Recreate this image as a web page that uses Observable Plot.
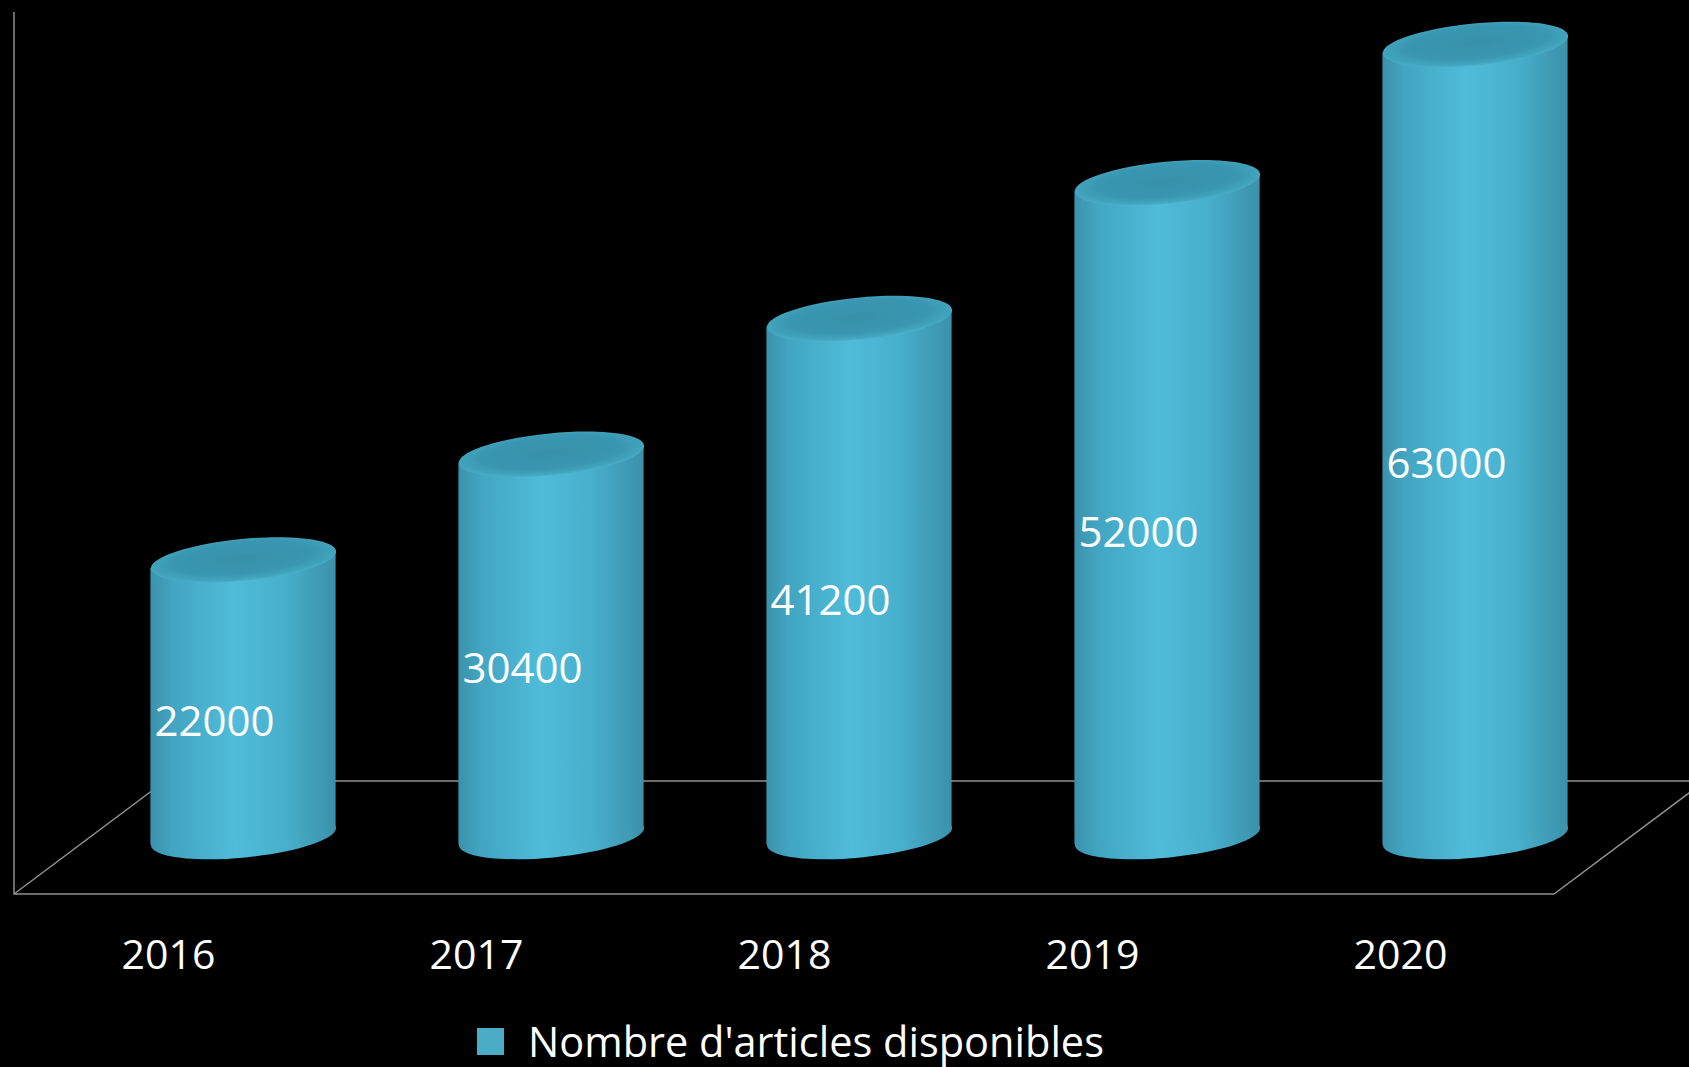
<!DOCTYPE html>
<html>
<head>
<meta charset="utf-8">
<script src="https://cdn.jsdelivr.net/npm/d3@7"></script>
<script src="https://cdn.jsdelivr.net/npm/@observablehq/plot@0.6"></script>
<style>
  html, body { margin: 0; padding: 0; background: #000; }
  body { width: 1689px; height: 1067px; overflow: hidden; font-family: "Open Sans", sans-serif; }
  #legend { position: relative; height: 52px; display: flex; align-items: center; padding-left: 477px; color: #fff; font-size: 41.5px; line-height: 52px; }
  #legend .sw { width: 27px; height: 27px; background: #4bacc6; margin-right: 24px; flex: none; }
</style>
</head>
<body>
<div id="chart"></div>
<div id="legend"><span class="sw"></span><span id="legend-text"></span></div>
<script>
// ---- data ----
const years = ["2016", "2017", "2018", "2019", "2020"];
const values = [22000, 30400, 41200, 52000, 63000];
const seriesName = "Nombre d'articles disponibles";

const data = years.map((year, i) => ({year, value: values[i]}));

// cylinder geometry (style)
const capA = 93, capRatio = 0.226, tilt = -5.5;          // ellipse half-width, b/a, rotation (deg)
const th = tilt * Math.PI / 180;
const capB = capA * capRatio;
const halfX = Math.sqrt(capA * capA * Math.cos(th) ** 2 + capB * capB * Math.sin(th) ** 2);
const yOff = (capA * capA - capB * capB) * Math.sin(-th) * Math.cos(th) / halfX;
const skew = -Math.atan(yOff / halfX) * 180 / Math.PI;

// ellipse symbol (for cylinder caps)
const ellipse = (ratio) => ({
  draw(context, size) {
    const a = Math.sqrt(size / Math.PI), b = a * ratio, k = 0.5522847;
    context.moveTo(-a, 0);
    context.bezierCurveTo(-a, -b * k, -a * k, -b, 0, -b);
    context.bezierCurveTo(a * k, -b, a, -b * k, a, 0);
    context.bezierCurveTo(a, b * k, a * k, b, 0, b);
    context.bezierCurveTo(-a * k, b, -a, b * k, -a, 0);
    context.closePath();
  }
});

function skewRects(g) {
  d3.select(g).selectAll("rect").each(function () {
    const x = +this.getAttribute("x"), w = +this.getAttribute("width");
    const y = +this.getAttribute("y"), h = +this.getAttribute("height");
    const cx = x + w / 2, cy = y + h / 2;
    this.setAttribute("transform", `translate(${cx},${cy}) skewY(${skew}) translate(${-cx},${-cy})`);
  });
  return g;
}

// 3D frame (walls / floor) + gradient definitions
function frame(index, scales, channels, dims) {
  const g = d3.create("svg:g");
  const defs = g.append("defs");
  const body = defs.append("linearGradient").attr("id", "cylBody").attr("x1", 0).attr("y1", 0).attr("x2", 1).attr("y2", 0);
  [[0, "#3b92ac"], [0.12, "#42a5c1"], [0.45, "#4fbcda"], [0.72, "#48afcc"], [1, "#3b91aa"]]
    .forEach(([o, c]) => body.append("stop").attr("offset", o).attr("stop-color", c));
  const top = defs.append("radialGradient").attr("id", "cylTop").attr("cx", 0.5).attr("cy", 0.45).attr("r", 0.55);
  [[0, "#3790a9"], [0.7, "#3a97b1"], [0.92, "#43a5bf"], [1, "#4db1cb"]]
    .forEach(([o, c]) => top.append("stop").attr("offset", o).attr("stop-color", c));

  const y0 = scales.y(0);
  const front = y0 + 58, back = y0 - 55;
  const left = 14, right = 1554, depth = 151, topY = 12;
  const path = `M${left},${topY}V${front}H${right}L${right + depth},${back}` +
               `M${left},${front}L${left + depth},${back}H${dims.width + 20}`;
  g.append("path").attr("d", path).attr("fill", "none").attr("stroke", "#8f8f8f").attr("stroke-width", 1.5);
  return g.node();
}

const inset = (308 - 2 * halfX) / 2;

const chart = Plot.plot({
  width: 1689,
  height: 1015,
  marginLeft: 89,
  marginRight: 60,
  marginTop: 44,
  marginBottom: 179,
  style: {background: "#000", color: "#fff", fontFamily: "Open Sans, sans-serif", overflow: "visible"},
  x: {domain: years, padding: 0, label: null},
  y: {domain: [0, 63000], axis: null, label: null},
  marks: [
    frame,
    // bottom caps
    Plot.dot(data, {x: "year", y: () => 0, r: capA, symbol: ellipse(capRatio), rotate: tilt, fill: "url(#cylBody)", stroke: "none"}),
    // cylinder bodies
    Plot.barY(data, {x: "year", y: "value", fill: "url(#cylBody)", insetLeft: inset, insetRight: inset,
      render: (i, s, v, d, c, next) => skewRects(next(i, s, v, d, c))}),
    // top caps
    Plot.dot(data, {x: "year", y: "value", r: capA, symbol: ellipse(capRatio), rotate: tilt, fill: "url(#cylTop)", stroke: "none"}),
    // value labels
    Plot.text(data, {x: "year", y: d => d.value / 2, text: d => String(d.value), dx: -29, dy: 24,
      fill: "#fff", fontSize: 42, fontFamily: "Open Sans, sans-serif"}),
    // year axis
    Plot.axisX({tickSize: 0, tickPadding: 103, dx: -75, fontSize: 41, fill: "#fff", label: null})
  ]
});

// fallback if the render option is not available in this Plot build
d3.select(chart).selectAll('g[aria-label="bar"]').each(function () {
  const r = this.querySelector("rect");
  if (r && !r.getAttribute("transform")) skewRects(this);
});

document.getElementById("chart").appendChild(chart);
document.getElementById("legend-text").textContent = seriesName;
</script>
</body>
</html>
